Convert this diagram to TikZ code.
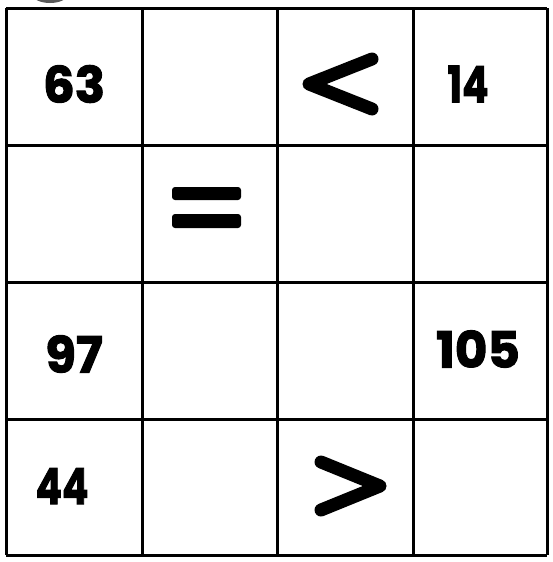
\documentclass[tikz,border=0pt]{standalone}
\usepackage{fontspec}
\setmainfont{Poppins}[BoldFont=* Bold,BoldFeatures={FakeBold=2}]
\begin{document}
\begin{tikzpicture}[x=1pt,y=-1pt,
  gridline/.style={line width=3pt,black},
  num/.style={font=\fontsize{50}{50}\selectfont\bfseries,inner sep=0pt,anchor=center},
  narrow/.style={num,xscale=0.78},
  rel/.style={line width=13pt,line cap=round,line join=round}]
\useasboundingbox (0,0) rectangle (552,562);
\begin{scope}
\clip (0,0) rectangle (552,3.5);
\fill[gray!70!black] (50,-6) ellipse (18 and 9);
\end{scope}
\foreach \x in {6,142,277,413,547} \draw[gridline] (\x,8) -- (\x,555);
\foreach \y in {8,145,282,419,555} \draw[gridline] (6,\y) -- (547,\y);
\node[num] (n63) at (74,84) {63};
\node[narrow] (n14) at (468,84) {14};
\node[num] (n97) at (74,354) {97};
\node[num] (n105) at (478,349) {105};
\node[narrow] (n44) at (62,486) {44};
\draw[rel] (372,59) -- (309,84) -- (372,109);
\draw[rel] (321,462) -- (380,486) -- (321,510);
\fill[rounded corners=3pt] (172,187) rectangle (241,200);
\fill[rounded corners=3pt] (172,214) rectangle (241,228);
\end{tikzpicture}
\end{document}
